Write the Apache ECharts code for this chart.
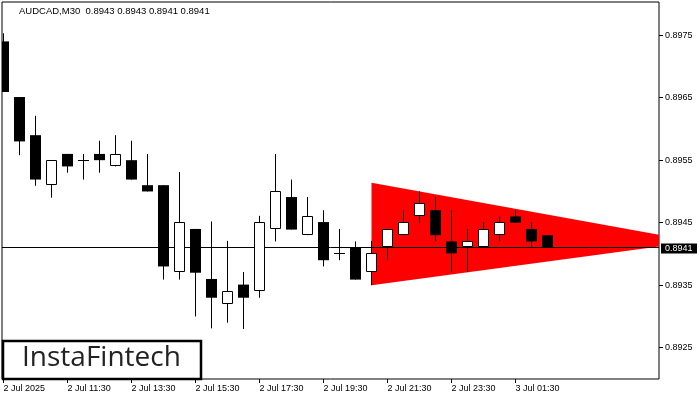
<!DOCTYPE html>
<html>
<head>
<meta charset="utf-8">
<script src="https://cdn.jsdelivr.net/npm/echarts@6/dist/echarts.min.js"></script>
<style>
html,body{margin:0;padding:0;background:#fff;}
#c{width:700px;height:400px;}
</style>
</head>
<body>
<div id="c"></div>
<script>
// ---- data ----
const timeLabels = ["2 Jul 2025","2 Jul 11:30","2 Jul 13:30","2 Jul 15:30","2 Jul 17:30","2 Jul 19:30","2 Jul 21:30","2 Jul 23:30","3 Jul 01:30"];
const labelIndex = [0,4,8,12,16,20,24,28,32];
const opens  = [0.89740,0.89651,0.89590,0.89510,0.89560,0.89550,0.89560,0.89540,0.89550,0.89510,0.89510,0.89371,0.89440,0.89360,0.89320,0.89351,0.89341,0.89440,0.89491,0.89430,0.89451,0.89401,0.89411,0.89371,0.89411,0.89430,0.89460,0.89470,0.89420,0.89411,0.89411,0.89430,0.89460,0.89440,0.89430];
const highs  = [0.89753,0.89651,0.89621,0.89550,0.89560,0.89560,0.89581,0.89590,0.89581,0.89560,0.89510,0.89531,0.89440,0.89452,0.89421,0.89371,0.89461,0.89560,0.89519,0.89491,0.89470,0.89440,0.89420,0.89421,0.89440,0.89470,0.89500,0.89491,0.89470,0.89440,0.89451,0.89460,0.89470,0.89451,0.89430];
const lows   = [0.89659,0.89558,0.89509,0.89490,0.89530,0.89519,0.89530,0.89540,0.89519,0.89500,0.89359,0.89359,0.89300,0.89281,0.89290,0.89280,0.89330,0.89420,0.89439,0.89430,0.89380,0.89390,0.89359,0.89350,0.89390,0.89430,0.89450,0.89420,0.89371,0.89371,0.89411,0.89420,0.89450,0.89411,0.89411];
const closes = [0.89659,0.89580,0.89519,0.89550,0.89540,0.89550,0.89550,0.89560,0.89519,0.89500,0.89380,0.89451,0.89370,0.89330,0.89341,0.89330,0.89451,0.89500,0.89439,0.89460,0.89390,0.89401,0.89359,0.89401,0.89440,0.89451,0.89481,0.89430,0.89401,0.89420,0.89440,0.89451,0.89450,0.89420,0.89411];
const priceTicks = [0.8925,0.8935,0.8945,0.8955,0.8965,0.8975];
const currentPrice = 0.8941;
const headerText = "AUDCAD,M30  0.8943 0.8943 0.8941 0.8941";
// triangle pattern vertices: [index, price]
const triangleTop = [23, 0.89514];
const triangleBottom = [23, 0.89350];
const triangleApex = [43.3, 0.89420];

const candleData = opens.map((o,i)=>[i,o,closes[i],lows[i],highs[i]]);
const triangleData = [triangleTop, triangleBottom, triangleApex];

const chart = echarts.init(document.getElementById('c'), null, {renderer:'canvas'});
const FONT = '"Liberation Sans", Arial, sans-serif';

function renderCandle(params, api){
  const i = api.value(0), o = api.value(1), c = api.value(2), l = api.value(3), h = api.value(4);
  const pO = api.coord([i,o]), pC = api.coord([i,c]), pL = api.coord([i,l]), pH = api.coord([i,h]);
  const cx = Math.round(pO[0]-0.5)+0.5;
  const half = 5.5;
  const children = [];
  children.push({type:'line', shape:{x1:cx,y1:pH[1],x2:cx,y2:pL[1]}, style:{stroke:'#000',lineWidth:1}});
  const top = Math.min(pO[1],pC[1]), bot = Math.max(pO[1],pC[1]);
  if (Math.abs(bot-top) < 1.2) {
    const y = Math.round(top-0.5)+0.5;
    children.push({type:'line', shape:{x1:cx-half,y1:y,x2:cx+half,y2:y}, style:{stroke:'#000',lineWidth:1}});
  } else if (c < o) {
    children.push({type:'rect', shape:{x:cx-half,y:top,width:half*2,height:bot-top}, style:{fill:'#000'}});
  } else {
    children.push({type:'rect', shape:{x:cx-half+0.5,y:Math.round(top)+0.5,width:half*2-1,height:Math.round(bot)-Math.round(top)-1}, style:{fill:'#fff',stroke:'#000',lineWidth:1}});
  }
  return {type:'group', children};
}

function renderTriangle(params, api){
  if (params.dataIndex !== 0) return null;
  const right = api.coord([xMax, triangleApex[1]])[0];
  const A = api.coord(triangleTop), B = api.coord(triangleBottom), C = api.coord(triangleApex);
  let pts;
  if (C[0] > right) {
    const t1 = (right-A[0])/(C[0]-A[0]);
    const t2 = (right-B[0])/(C[0]-B[0]);
    pts = [A, [right, A[1]+(C[1]-A[1])*t1], [right, B[1]+(C[1]-B[1])*t2], B];
  } else pts = [A, C, B];
  return {type:'polygon', shape:{points:pts}, style:{fill:'#ff0000'}};
}

const xMin = -0.09375, xMax = 40.96875;

chart.setOption({
  animation:false,
  backgroundColor:'#fff',
  grid:{left:2, right:41, top:2, bottom:21, show:true, borderColor:'#000', borderWidth:1, backgroundColor:'transparent'},
  xAxis:{
    type:'value', min:xMin, max:xMax,
    axisLine:{show:false},
    splitLine:{show:false},
    axisTick:{show:true, customValues:labelIndex, length:4, lineStyle:{color:'#000'}},
    axisLabel:{customValues:labelIndex, align:'left', margin:5, fontSize:9, fontFamily:FONT, color:'#000',
      formatter:(v)=>{const k=labelIndex.indexOf(Math.round(v)); return k>=0?timeLabels[k]:'';}}
  },
  yAxis:{
    type:'value', position:'right', min:0.8920, max:0.89803,
    axisLine:{show:false},
    splitLine:{show:false},
    axisTick:{show:false},
    axisLabel:{customValues:priceTicks, margin:6, fontSize:9, fontFamily:FONT, color:'#000',
      formatter:(v)=>v.toFixed(4)}
  },
  series:[
    {type:'custom', name:'pattern', renderItem:renderTriangle, data:triangleData, encode:{x:0, y:1}, z:1, silent:true},
    {type:'custom', name:'AUDCAD', renderItem:renderCandle, data:candleData, z:3, silent:true, clip:true,
      encode:{x:0, y:[1,2,3,4]}}
  ]
});

// overlay elements positioned through the chart's own scales
const gL = chart.convertToPixel({gridIndex:0}, [xMin, currentPrice]);
const gR = chart.convertToPixel({gridIndex:0}, [xMax, currentPrice]);
const py = Math.round(gL[1]-0.5)+0.5;
const overlay = [];
overlay.push({type:'line', shape:{x1:gL[0], y1:py, x2:gR[0], y2:py}, style:{stroke:'#000', lineWidth:1}, z:2, silent:true});
priceTicks.forEach(v=>{
  const p = chart.convertToPixel({gridIndex:0}, [xMax, v]);
  const y = Math.round(p[1]-0.5)+0.5;
  overlay.push({type:'line', shape:{x1:p[0], y1:y, x2:p[0]+4, y2:y}, style:{stroke:'#000', lineWidth:1}, silent:true});
});
overlay.push({type:'rect', shape:{x:gR[0]+2, y:Math.round(gR[1])-4.5, width:36, height:10}, style:{fill:'#000'}, z:20, silent:true});
overlay.push({type:'text', x:gR[0]+6, y:Math.round(gR[1])+0.5, style:{text:currentPrice.toFixed(4), font:'9px '+FONT, fill:'#fff', verticalAlign:'middle'}, z:21, silent:true});
overlay.push({type:'text', x:19, y:6, style:{text:headerText, font:'9.5px '+FONT, fill:'#000'}, silent:true});
overlay.push({type:'rect', shape:{x:3, y:341, width:198, height:38}, style:{fill:'#fff', stroke:'#000', lineWidth:2.5}, z:10, silent:true});
overlay.push({type:'text', x:22, y:344, style:{text:'InstaFintech', font:'500 28px "Open Sans", sans-serif', fill:'#222'}, z:11, silent:true});
chart.setOption({graphic: overlay});
</script>
</body>
</html>
